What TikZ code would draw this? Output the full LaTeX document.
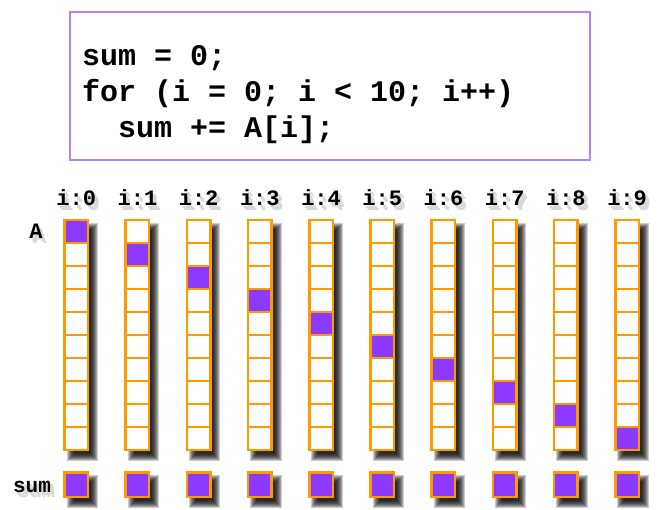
\documentclass[tikz,border=0pt]{standalone}
\usepackage{fontspec}
\setmonofont{Liberation Mono}
\usepackage{tikz}
\usetikzlibrary{positioning}
\definecolor{cellorange}{RGB}{255,153,0}
\definecolor{cellpurple}{RGB}{140,58,255}
\definecolor{boxpurple}{RGB}{178,130,250}
% soft shadow of the rectangle (#1,#2)-(#3,#4), shifted down and right
\newcommand{\softshadow}[4]{%
	\foreach \e in {4,3,...,-3}
		\fill[black,opacity=0.2] (#1+6-\e,#2+7-\e) rectangle (#3+6+\e,#4+7+\e);}
% text with a faint grey shadow behind it
\newcommand{\shtext}[1]{\makebox[0pt][l]{\kern4pt\raisebox{-5pt}{\textcolor{black!15}{#1}}}\makebox[0pt][l]{\kern2.5pt\raisebox{-3pt}{\textcolor{black!15}{#1}}}#1}

\begin{document}
\begin{tikzpicture}[x=1pt,y=-1pt,
	cell/.style={draw=cellorange,line width=2.5pt,fill=white,minimum width=23.5pt,minimum height=23pt,inner sep=0pt},
	hit/.style={cell,fill=cellpurple},
	lbl/.style={font=\ttfamily\bfseries\fontsize{22}{22}\selectfont,inner sep=0pt,anchor=base},
	code/.style={font=\ttfamily\bfseries\fontsize{30}{30}\selectfont,inner sep=0pt,anchor=base west}]
	\useasboundingbox (0,0) rectangle (664,509);
	% the loop
	\node(box) [draw=boxpurple,line width=1.5pt,minimum width=520pt,minimum height=148pt,anchor=north west] at (69,11) {};
	\node(code1) [code] at (82,65) {sum = 0;};
	\node(code2) [code] at (82,101) {for (i = 0; i < 10; i++)};
	\node(code3) [code] at (82,137) {\hspace*{1.2em}sum += A[i];};
	% row labels
	\node(A) [lbl] at (36,238) {\shtext{A}};
	\node(sum) [lbl,font=\ttfamily\bfseries\fontsize{21}{21}\selectfont] at (32,492) {\shtext{sum}};
	% one column per step
	\foreach \k in {0,...,9} {
		\node(lab\k) [lbl] at (76.25+61.2*\k,205) {\shtext{i:\k}};
		\softshadow{64.5+61.2*\k}{220}{88+61.2*\k}{450}
		\softshadow{64.5+61.2*\k}{472}{88+61.2*\k}{497}
		\foreach \j in {0,...,9} {
			\ifnum\j=\k
				\node(c\k-\j) [hit] at (76.25+61.2*\k,231.5+23*\j) {};
			\else
				\node(c\k-\j) [cell] at (76.25+61.2*\k,231.5+23*\j) {};
			\fi
		}
		\node(s\k) [hit,minimum height=24.5pt] at (76.25+61.2*\k,484.5) {};
	}
\end{tikzpicture}
\end{document}
